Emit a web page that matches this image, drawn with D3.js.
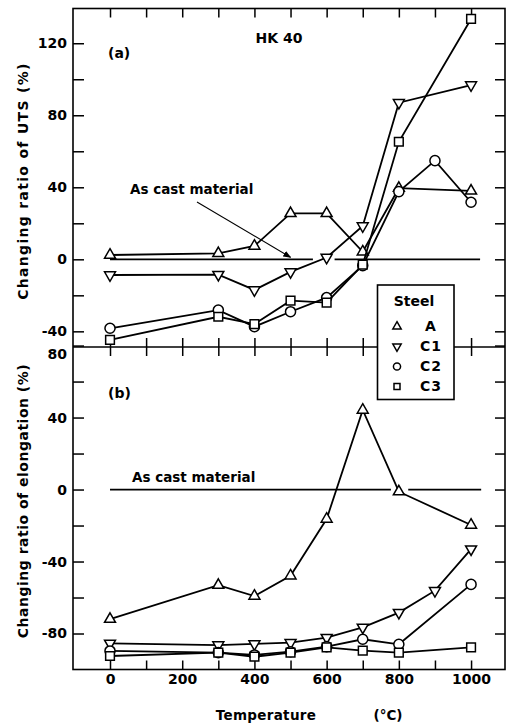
<!DOCTYPE html>
<html>
<head>
<meta charset="utf-8">
<script src="https://cdn.jsdelivr.net/npm/d3@7"></script>
<style>
body { margin: 0; background: #fff; }
text { font-family: "DejaVu Sans", sans-serif; font-weight: bold; fill: #000; }
</style>
</head>
<body>
<div id="chart"></div>
<script>
// temperatures (deg C) and changing ratio values (%)
var utsTempA = [0, 300, 400, 500, 600, 700, 800, 1000];
var utsA = [2.4, 3.3, 7.4, 25.5, 25.5, 4.2, 39.5, 38];
var utsTempC1 = [0, 300, 400, 500, 600, 700, 800, 1000];
var utsC1 = [-8.7, -8.5, -17, -7, 1, 18.5, 87, 96.8];
var utsTempC2 = [0, 300, 400, 500, 600, 700, 800, 900, 1000];
var utsC2 = [-38.3, -28.2, -37.4, -29.1, -21.3, -3.5, 37.6, 54.8, 31.7];
var utsTempC3 = [0, 300, 400, 500, 600, 700, 800, 1000];
var utsC3 = [-44.8, -31.9, -36, -23, -24, -3, 65.3, 133.5];

var elTempA = [0, 300, 400, 500, 600, 700, 800, 1000];
var elA = [-72, -53.1, -59.2, -47.9, -16.4, 44.2, -1.2, -19.7];
var elTempC1 = [0, 300, 400, 500, 600, 700, 800, 900, 1000];
var elC1 = [-85.5, -86.4, -85.8, -85.1, -82.3, -76.6, -68.4, -56.2, -33.1];
var elTempC2 = [0, 300, 400, 500, 600, 700, 800, 1000];
var elC2 = [-89.7, -90.6, -91.9, -90.1, -87.3, -83.2, -86, -52.7];
var elTempC3 = [0, 300, 400, 500, 600, 700, 800, 1000];
var elC3 = [-92.5, -90.6, -92.9, -90.6, -87.7, -89.5, -90.6, -87.7];

// "as cast material" reference line pieces (temperature extents)
var utsBase = [[0, 562], [622, 1025]];
var elBase = [[0, 778], [826, 1028]];

var steels = ["A", "C1", "C2", "C3"];
var xTicks = [0, 100, 200, 300, 400, 500, 600, 700, 800, 900, 1000];
var xLabels = [0, 200, 400, 600, 800, 1000];
var utsTicks = [-40, -20, 0, 20, 40, 60, 80, 100, 120];
var utsLabels = [-40, 0, 40, 80, 120];
var elTicks = [-80, -60, -40, -20, 0, 20, 40, 60, 80];
var elLabels = [-80, -40, 0, 40, 80];

(function () {
var width = 511, height = 723;
var svg = d3.select("#chart").append("svg")
  .attr("width", width).attr("height", height);

var x = d3.scaleLinear().domain([-102.5, 1094]).range([73, 505]);
var yTop = d3.scaleLinear().domain([-48.7, 139.3]).range([347, 8.5]);
var yBot = d3.scaleLinear().domain([-100, 79.2]).range([669.5, 347]);

var fmt = function (list) {
  return function (d) { return list.indexOf(d) >= 0 ? String(d) : ""; };
};

function panelAxes(y, ticks, labels, top, bottom) {
  var left = svg.append("g").attr("transform", "translate(73,0)")
    .call(d3.axisLeft(y).tickValues(ticks).tickSize(-11).tickPadding(6).tickFormat(fmt(labels)));
  svg.append("g").attr("transform", "translate(505,0)")
    .call(d3.axisRight(y).tickValues(ticks).tickSize(-10).tickFormat(""));
  svg.append("g").attr("transform", "translate(0," + top + ")")
    .call(d3.axisTop(x).tickValues(xTicks).tickSize(-9).tickFormat(""));
  svg.append("g").attr("transform", "translate(0," + bottom + ")")
    .call(d3.axisBottom(x).tickValues(xTicks).tickSize(-9).tickFormat(""));
  return left;
}
panelAxes(yTop, utsTicks, utsLabels, 8.5, 347);
var botLeft = panelAxes(yBot, elTicks, elLabels, 347, 669.5);

// bottom x labels
svg.append("g").attr("transform", "translate(0,669.5)")
  .call(d3.axisBottom(x).tickValues(xLabels).tickSize(0).tickPadding(5).tickFormat(String));

svg.selectAll(".domain").remove();
svg.selectAll(".tick line").attr("stroke", "#000").attr("stroke-width", 1.5);
svg.selectAll(".tick text").style("font-size", "14px").style("font-family", "DejaVu Sans").style("font-weight", "bold");

// the 80 label of the lower panel sits just below the dividing line
botLeft.selectAll(".tick").filter(function (d) { return d === 80; })
  .select("text").attr("dy", "0.95em");

// frame
svg.append("rect").attr("x", 73).attr("y", 8.5).attr("width", 432).attr("height", 661)
  .attr("fill", "none").attr("stroke", "#000").attr("stroke-width", 1.6);
svg.append("line").attr("x1", 73).attr("x2", 505).attr("y1", 347).attr("y2", 347)
  .attr("stroke", "#000").attr("stroke-width", 1.6);

// baselines
function baseline(y, pieces) {
  svg.selectAll(null).data(pieces).enter().append("line")
    .attr("x1", function (d) { return x(d[0]); })
    .attr("x2", function (d) { return x(d[1]); })
    .attr("y1", y(0)).attr("y2", y(0))
    .attr("stroke", "#000").attr("stroke-width", 1.8);
}
baseline(yTop, utsBase);
baseline(yBot, elBase);

var shapes = {
  A: d3.symbol().type(d3.symbolTriangle).size(52),
  C1: d3.symbol().type(d3.symbolTriangle).size(52),
  C2: d3.symbol().type(d3.symbolCircle).size(80),
  C3: d3.symbol().type(d3.symbolSquare).size(76)
};
var rot = { A: 0, C1: 180, C2: 0, C3: 0 };

function series(y, temps, vals, key) {
  var pts = temps.map(function (t, i) { return [t, vals[i]]; });
  svg.append("path").datum(pts)
    .attr("d", d3.line().x(function (d) { return x(d[0]); }).y(function (d) { return y(d[1]); }))
    .attr("fill", "none").attr("stroke", "#000").attr("stroke-width", 1.8);
  svg.selectAll(null).data(pts).enter().append("path")
    .attr("d", shapes[key]())
    .attr("transform", function (d) {
      return "translate(" + x(d[0]) + "," + y(d[1]) + ") rotate(" + rot[key] + ")";
    })
    .attr("fill", "#fff").attr("stroke", "#000").attr("stroke-width", 1.5);
}
series(yTop, utsTempA, utsA, "A");
series(yTop, utsTempC1, utsC1, "C1");
series(yTop, utsTempC2, utsC2, "C2");
series(yTop, utsTempC3, utsC3, "C3");
series(yBot, elTempA, elA, "A");
series(yBot, elTempC1, elC1, "C1");
series(yBot, elTempC2, elC2, "C2");
series(yBot, elTempC3, elC3, "C3");

// arrow for "As cast material"
svg.append("defs").append("marker")
  .attr("id", "head").attr("viewBox", "0 0 10 10").attr("refX", 9).attr("refY", 5)
  .attr("markerWidth", 8).attr("markerHeight", 8).attr("markerUnits", "userSpaceOnUse")
  .attr("orient", "auto")
  .append("path").attr("d", "M0,1L10,5L0,9Z").attr("fill", "#000");
svg.append("line")
  .attr("x1", 197).attr("y1", 202).attr("x2", x(500)).attr("y2", yTop(0) - 2)
  .attr("stroke", "#000").attr("stroke-width", 1.1).attr("marker-end", "url(#head)");

// texts
function label(tx, ty, s, size, anchor, ls) {
  return svg.append("text").attr("x", tx).attr("y", ty).attr("dy", "0.35em")
    .attr("text-anchor", anchor || "start").style("font-size", size + "px")
    .style("letter-spacing", (ls || 0) + "px").text(s);
}
label(279, 38, "HK 40", 14, "middle");
label(108, 53, "(a)", 14);
label(108, 393, "(b)", 14);
label(130, 189.5, "As cast material", 13.5);
label(132, 477, "As cast material", 13.5);
label(266, 715, "Temperature", 13.5, "middle", 0.3);
label(388, 715, "(\u00b0C)", 13.5, "middle");

svg.append("text").attr("transform", "translate(23,181) rotate(-90)")
  .attr("dy", "0.35em").attr("text-anchor", "middle").style("font-size", "14px")
  .style("letter-spacing", "1.3px").text("Changing ratio of UTS  (%)");
svg.append("text").attr("transform", "translate(23,501) rotate(-90)")
  .attr("dy", "0.35em").attr("text-anchor", "middle").style("font-size", "14px")
  .style("letter-spacing", "0.5px").text("Changing ratio of elongation (%)");

// legend
var lg = svg.append("g");
lg.append("rect").attr("x", 377.5).attr("y", 285).attr("width", 76.5).attr("height", 114.5)
  .attr("fill", "#fff").attr("stroke", "#000").attr("stroke-width", 1.6);
lg.append("text").attr("x", 414).attr("y", 301.5).attr("dy", "0.35em")
  .attr("text-anchor", "middle").style("font-size", "14px").text("Steel");
var legendScale = d3.scalePoint().domain(steels).range([326.5, 386.5]);
var small = {
  A: d3.symbol().type(d3.symbolTriangle).size(30),
  C1: d3.symbol().type(d3.symbolTriangle).size(30),
  C2: d3.symbol().type(d3.symbolCircle).size(40),
  C3: d3.symbol().type(d3.symbolSquare).size(36)
};
steels.forEach(function (k) {
  lg.append("path").attr("d", small[k]())
    .attr("transform", "translate(397," + legendScale(k) + ") rotate(" + rot[k] + ")")
    .attr("fill", "#fff").attr("stroke", "#000").attr("stroke-width", 1.5);
  lg.append("text").attr("x", 431).attr("y", legendScale(k)).attr("dy", "0.35em")
    .attr("text-anchor", "middle").style("font-size", "14px")
    .style("letter-spacing", "1px").text(k);
});
})();
</script>
</body>
</html>
